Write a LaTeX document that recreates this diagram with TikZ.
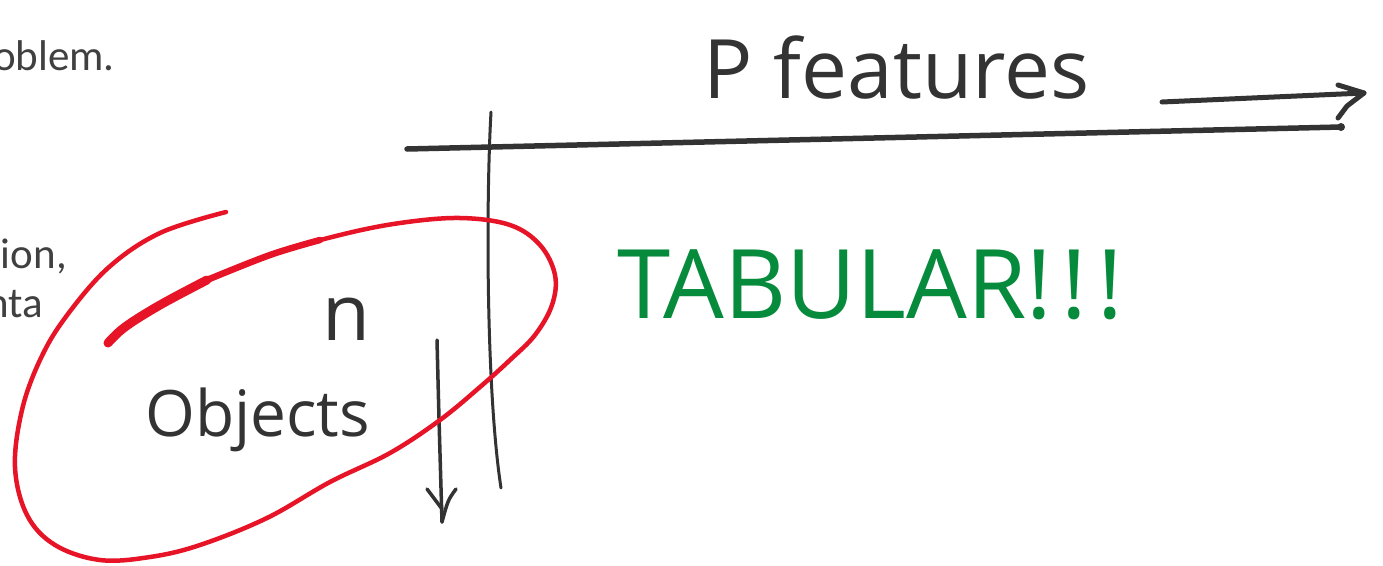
\documentclass[tikz,border=0pt]{standalone}
\usepackage{fontspec}
\setmainfont{Open Sans}
\newfontfamily\slidefont{Carlito}
\newfontfamily\handfont{Open Sans}
\definecolor{ink}{RGB}{51,51,51}
\definecolor{redpen}{RGB}{230,20,38}
\definecolor{greenpen}{RGB}{6,138,60}
\definecolor{slidegrey}{RGB}{64,64,64}
\tikzset{
  pen/.style={draw=ink, line cap=round, line join=round},
  redstroke/.style={draw=redpen, line cap=round, line join=round},
  slidetext/.style={inner sep=0pt, text=slidegrey, font=\slidefont\fontsize{43}{46}\selectfont},
  handtext/.style={inner sep=0pt, text=ink},
}
\begin{document}
\begin{tikzpicture}[x=1pt, y=-1pt]
  \useasboundingbox (0,0) rectangle (1383,565);
  \fill[white] (0,0) rectangle (1383,565);

  % fragments of slide text at the left edge
  \node[slidetext, anchor=base east] (t1) at (115,70) {oblem.};
  \node[slidetext, anchor=base east] (t2) at (67,268) {ion,};
  \node[slidetext, anchor=base east] (t3) at (43,317) {nta};

  % feature axis (horizontal) and object axis (vertical)
  \coordinate (hl) at (407,149);
  \coordinate (hr) at (1341,127);
  \draw[pen, line width=5.5] (hl) -- (hr);
  \fill[ink] (hr) circle (4);

  \coordinate (vt) at (491,112);
  \coordinate (vb) at (501,488);
  \draw[pen, line width=3] (vt) .. controls (486,200) and (486,390) .. (vb);

  % arrow under "P features"
  \coordinate (as) at (1162,102);
  \coordinate (at) at (1364,93);
  \draw[pen, line width=5] (as) -- (at);
  \draw[pen, line width=5] (1338,85) -- (at) -- (1347,106) -- (1338,118);

  % arrow beside "n Objects"
  \coordinate (ds) at (437,340);
  \coordinate (de) at (442,522);
  \draw[pen, line width=3.5] (ds) .. controls (439,420) .. (de);
  \draw[pen, line width=3.5] (427,489) -- (442,509);
  \draw[pen, line width=3.5] (456,489) .. controls (448,500) .. (de);

  % red loop round the objects
  \draw[redstroke, line width=4.5] plot[smooth, tension=0.6] coordinates {
    (108,343) (125,327) (160,305) (207,280) (270,255) (340,235) (400,223)
    (460,218) (510,225) (540,245) (555,275) (552,305) (535,335) (510,360)
    (480,387) (440,420) (390,453) (330,482) (267,518) (200,545) (150,557)
    (100,560) (55,545) (27,515) (15,467) (22,410) (40,360) (65,318)
    (108,268) (160,233) (226,212)};
  \draw[redstroke, line width=9] plot[smooth, tension=0.6] coordinates {
    (108,343) (125,327) (160,305) (207,280)};
  \draw[redstroke, line width=6.5] plot[smooth, tension=0.6] coordinates {
    (207,280) (270,255) (320,240)};

  % handwritten labels
  \node[handtext, anchor=base west, font=\handfont\fontsize{82}{86}\selectfont] (pf) at (703,98) {P features};
  \node[handtext, anchor=base west, font=\handfont\fontsize{96}{100}\selectfont, text=greenpen] (tab) at (617,318) {TABULAR!\kern10pt!\kern10pt!};
  \node[handtext, anchor=base west, font=\handfont\fontsize{78}{80}\selectfont] (n) at (322,340) {n};
  \node[handtext, anchor=base west, font=\handfont\fontsize{64}{68}\selectfont] (obj) at (145,436) {Objects};
\end{tikzpicture}
\end{document}
